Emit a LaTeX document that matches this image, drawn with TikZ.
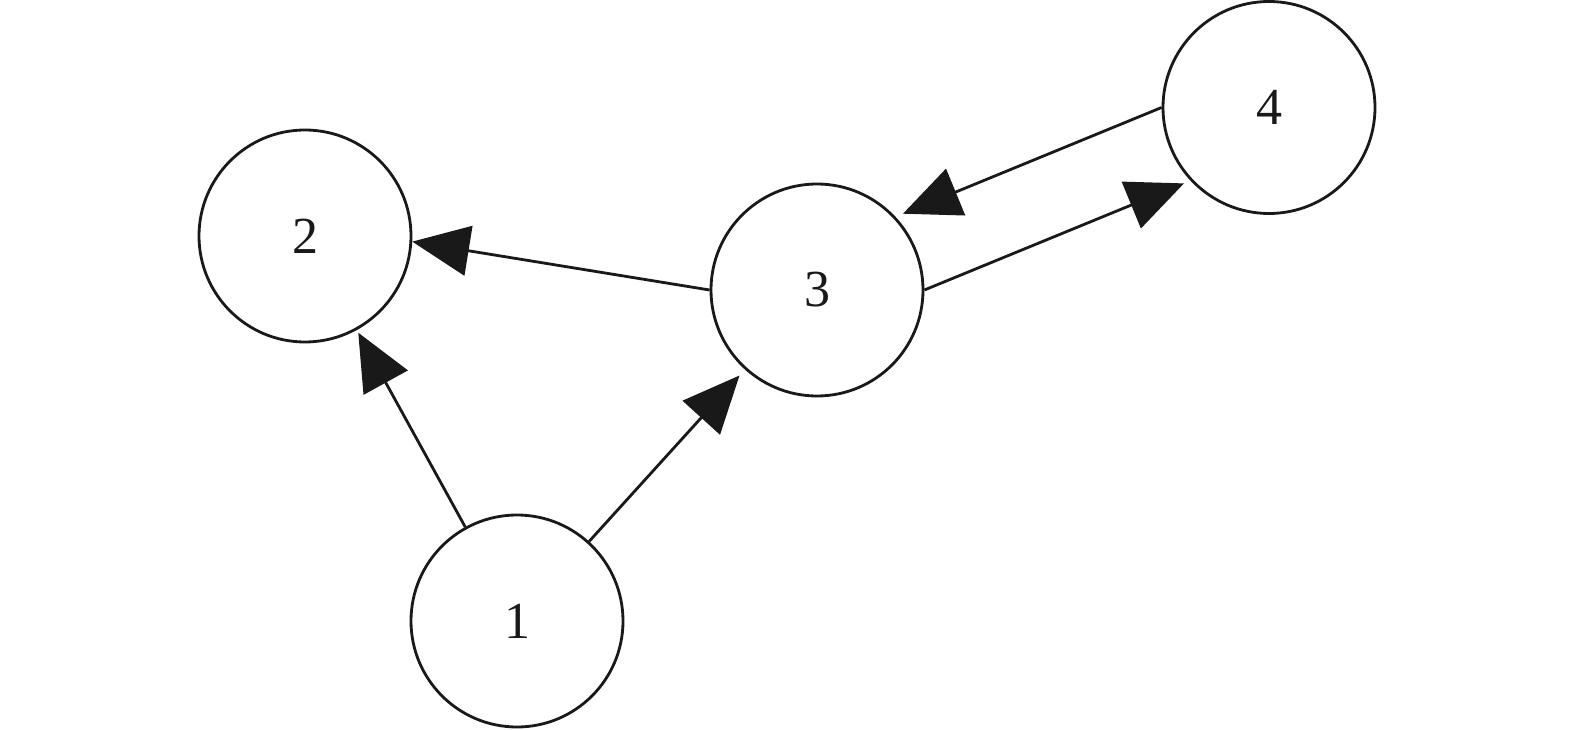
\documentclass[tikz,border=0pt]{standalone}
\usepackage{fontspec}
\setmainfont{Liberation Serif}
\usetikzlibrary{arrows.meta}
\begin{document}
\begin{tikzpicture}[x=1pt,y=-1pt,
  vertex/.style={circle,draw=black!90,line width=2.8pt,minimum size=212pt,inner sep=0pt,
    font=\fontsize{52}{60}\selectfont,text=black!90},
  edge/.style={draw=black!90,line width=2.8pt,
    -{Triangle[length=57pt,width=50pt,fill=black!90]}}]
\useasboundingbox (0,0) rectangle (1575,730);
\node[vertex] (n1) at (517,621) {1};
\node[vertex] (n2) at (305,236) {2};
\node[vertex] (n3) at (817,290) {3};
\node[vertex] (n4) at (1269,107.5) {4};
\draw[edge,shorten >=3pt] (n1) -- (n2);
\draw[edge,shorten >=8pt] (n1) -- (n3);
\draw[edge] (n3.west) -- (n2.357);
\draw[edge,shorten >=8pt] (n4.west) -- (n3.43);
\draw[edge,shorten >=7pt] (n3.east) -- (n4.223);
\end{tikzpicture}
\end{document}
